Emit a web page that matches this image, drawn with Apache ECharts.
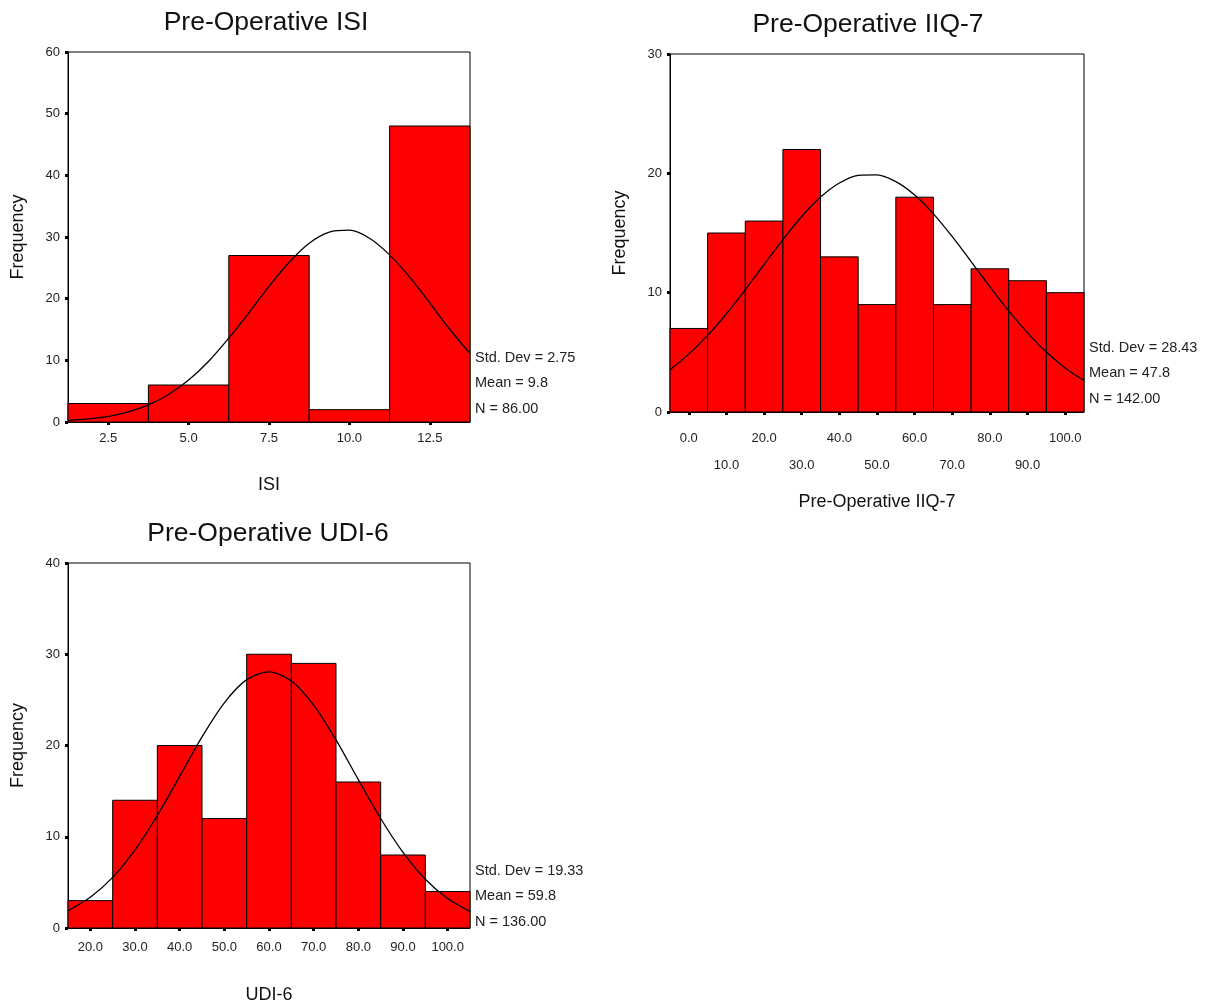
<!DOCTYPE html>
<html>
<head>
<meta charset="utf-8">
<script src="https://cdn.jsdelivr.net/npm/echarts@6/dist/echarts.min.js"></script>
<style>
html,body{margin:0;padding:0;background:#fff;}
#chart{width:1210px;height:1006px;}
</style>
</head>
<body>
<div id="chart"></div>
<script>
// ---------- Data ----------
const titles = ['Pre-Operative ISI', 'Pre-Operative IIQ-7', 'Pre-Operative UDI-6'];
const xNames = ['ISI', 'Pre-Operative IIQ-7', 'UDI-6'];

// ISI histogram
const isiCenters = [2.5, 5.0, 7.5, 10.0, 12.5];
const isiCounts = [3, 6, 27, 2, 48];
const isiBinWidth = 2.5;
const isiTicks = [2.5, 5.0, 7.5, 10.0, 12.5];
const isiTickLabels = ['2.5', '5.0', '7.5', '10.0', '12.5'];
const isiYTicks = [0, 10, 20, 30, 40, 50, 60];
const isiCurveX = [1.25, 1.875, 2.5, 3.125, 3.75, 4.375, 5.0, 5.625, 6.25, 6.875, 7.5, 8.125, 8.75, 9.375, 10.0, 10.625, 11.25, 11.875, 12.5, 13.125, 13.75];
const isiCurveY = [0.25, 0.49, 0.92, 1.64, 2.77, 4.45, 6.8, 9.86, 13.6, 17.7, 22.0, 25.9, 29.0, 30.8, 31.1, 29.8, 27.1, 23.5, 19.3, 15.0, 11.1];
const isiStats = ['Std. Dev = 2.75', 'Mean = 9.8', 'N = 86.00'];

// IIQ-7 histogram
const iiqCenters = [0, 10, 20, 30, 40, 50, 60, 70, 80, 90, 100];
const iiqCounts = [7, 15, 16, 22, 13, 9, 18, 9, 12, 11, 10];
const iiqBinWidth = 10;
const iiqTicks = [0, 10, 20, 30, 40, 50, 60, 70, 80, 90, 100];
const iiqTickLabels = ['0.0', '10.0', '20.0', '30.0', '40.0', '50.0', '60.0', '70.0', '80.0', '90.0', '100.0'];
const iiqYTicks = [0, 10, 20, 30];
const iiqCurveX = [-5, 0, 5, 10, 15, 20, 25, 30, 35, 40, 45, 50, 55, 60, 65, 70, 75, 80, 85, 90, 95, 100, 105];
const iiqCurveY = [3.55, 4.85, 6.42, 8.23, 10.24, 12.36, 14.45, 16.38, 18.01, 19.19, 19.83, 19.87, 19.3, 18.18, 16.6, 14.69, 12.61, 10.5, 8.47, 6.63, 5.02, 3.69, 2.64];
const iiqStats = ['Std. Dev = 28.43', 'Mean = 47.8', 'N = 142.00'];

// UDI-6 histogram
const udiCenters = [20, 30, 40, 50, 60, 70, 80, 90, 100];
const udiCounts = [3, 14, 20, 12, 30, 29, 16, 8, 4];
const udiBinWidth = 10;
const udiTicks = [20, 30, 40, 50, 60, 70, 80, 90, 100];
const udiTickLabels = ['20.0', '30.0', '40.0', '50.0', '60.0', '70.0', '80.0', '90.0', '100.0'];
const udiYTicks = [0, 10, 20, 30, 40];
const udiCurveX = [15, 20, 25, 30, 35, 40, 45, 50, 55, 60, 65, 70, 75, 80, 85, 90, 95, 100, 105];
const udiCurveY = [1.91, 3.37, 5.55, 8.55, 12.33, 16.61, 20.94, 24.68, 27.22, 28.07, 27.07, 24.43, 20.61, 16.26, 12.0, 8.29, 5.35, 3.23, 1.82];
const udiStats = ['Std. Dev = 19.33', 'Mean = 59.8', 'N = 136.00'];

// ---------- Build ----------
const FONT = '"Liberation Sans", Arial, Helvetica, sans-serif';
const panels = [
  {centers: isiCenters, counts: isiCounts, bw: isiBinWidth, ticks: isiTicks, labels: isiTickLabels, yTicks: isiYTicks, cx: isiCurveX, cy: isiCurveY, stats: isiStats,
   grid: {left: 68, top: 52, width: 402, height: 370}, nameGap: 54, labelMargin: 9, stagger: false, titleShift: -8, statsTop: 350},
  {centers: iiqCenters, counts: iiqCounts, bw: iiqBinWidth, ticks: iiqTicks, labels: iiqTickLabels, yTicks: iiqYTicks, cx: iiqCurveX, cy: iiqCurveY, stats: iiqStats,
   grid: {left: 670, top: 54, width: 414, height: 358}, nameGap: 81, labelMargin: 13, stagger: true, titleShift: -14, statsTop: 340},
  {centers: udiCenters, counts: udiCounts, bw: udiBinWidth, ticks: udiTicks, labels: udiTickLabels, yTicks: udiYTicks, cx: udiCurveX, cy: udiCurveY, stats: udiStats,
   grid: {left: 68, top: 563, width: 402, height: 365}, nameGap: 58, labelMargin: 12, stagger: false, titleShift: -6, statsTop: 863}
];

function histRender(params, api) {
  const x0 = api.value(0), x1 = api.value(1), y = api.value(2);
  const p0 = api.coord([x0, y]);
  const p1 = api.coord([x1, 0]);
  return {
    type: 'rect',
    shape: {x: p0[0], y: p0[1], width: p1[0] - p0[0], height: p1[1] - p0[1]},
    style: {fill: '#ff0000', stroke: '#000000', lineWidth: 1}
  };
}

const option = {
  backgroundColor: '#ffffff',
  animation: false,
  textStyle: {fontFamily: FONT},
  title: [], grid: [], xAxis: [], yAxis: [], series: [], graphic: []
};

panels.forEach((p, i) => {
  const g = p.grid;
  option.grid.push({left: g.left, top: g.top, width: g.width, height: g.height, show: true,
    borderColor: '#000', borderWidth: 1, backgroundColor: 'transparent'});
  option.title.push({text: titles[i], left: g.left + g.width / 2 + p.titleShift, top: g.top - 48, textAlign: 'center',
    textStyle: {fontFamily: FONT, fontSize: 26.5, fontWeight: 'normal', color: '#111'}});
  const xmin = p.centers[0] - p.bw / 2;
  const xmax = p.centers[p.centers.length - 1] + p.bw / 2;
  option.xAxis.push({
    type: 'value', gridIndex: i, min: xmin, max: xmax,
    name: xNames[i], nameLocation: 'middle', nameGap: p.nameGap,
    nameTextStyle: {fontFamily: FONT, fontSize: 18, color: '#111'},
    splitLine: {show: false},
    axisLine: {show: true, onZero: false, lineStyle: {color: '#000', width: 1}},
    axisTick: {show: true, customValues: p.ticks, length: 3, lineStyle: {color: '#000', width: 3}},
    axisLabel: {
      customValues: p.ticks, margin: p.labelMargin, fontFamily: FONT, fontSize: 13, color: '#222',
      lineHeight: p.stagger ? 27 : 15,
      formatter: (v) => {
        const k = p.ticks.indexOf(v);
        const s = k >= 0 ? p.labels[k] : '';
        return (p.stagger && k % 2 === 1) ? '\n' + s : s;
      }
    }
  });
  const ymax = p.yTicks[p.yTicks.length - 1];
  option.yAxis.push({
    type: 'value', gridIndex: i, min: 0, max: ymax, interval: 10,
    name: 'Frequency', nameLocation: 'middle', nameGap: 41, nameRotate: 90,
    nameTextStyle: {fontFamily: FONT, fontSize: 18, color: '#111'},
    splitLine: {show: false},
    axisLine: {show: true, onZero: false, lineStyle: {color: '#000', width: 1}},
    axisTick: {show: true, length: 3, lineStyle: {color: '#000', width: 3}},
    axisLabel: {margin: 8, fontFamily: FONT, fontSize: 13, color: '#222'}
  });
  option.series.push({
    type: 'custom', xAxisIndex: i, yAxisIndex: i, renderItem: histRender,
    encode: {x: [0, 1], y: 2},
    data: p.centers.map((c, k) => [c - p.bw / 2, c + p.bw / 2, p.counts[k]]),
    z: 2
  });
  option.series.push({
    type: 'line', xAxisIndex: i, yAxisIndex: i, smooth: 0.3, symbol: 'none',
    lineStyle: {color: '#000', width: 1.3}, clip: true,
    data: p.cx.map((x, k) => [x, p.cy[k]]), z: 3
  });
  p.stats.forEach((s, k) => {
    option.graphic.push({type: 'text', left: g.left + g.width + 5,
      top: p.statsTop + k * 25.5,
      style: {text: s, fontFamily: FONT, fontSize: 14.5, fill: '#222'}});
  });
});

const chart = echarts.init(document.getElementById('chart'), null, {renderer: 'canvas'});
chart.setOption(option);
</script>
</body>
</html>
